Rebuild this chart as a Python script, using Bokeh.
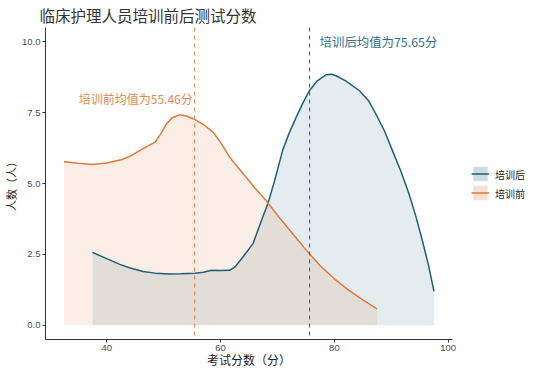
from bokeh.plotting import figure
from bokeh.models import (Range1d, Span, Label, Legend, LegendItem, FixedTicker,
                          NumeralTickFormatter)
from bokeh.embed import file_html
from bokeh.resources import INLINE

title_text = "临床护理人员培训前后测试分数"
x_label = "考试分数（分）"
y_label = "人数（人）"
series_names = ["培训后", "培训前"]

before_x = [32.5, 35, 37.5, 40, 42.5, 44, 45.8, 47, 48.5, 49.5, 50.5, 51.5, 52.8, 54,
            55.5, 57, 58.7, 60, 61.6, 63, 64.5, 66, 68, 70, 72.5, 75, 77.5, 80, 82.5, 85, 87.5]
before_y = [5.77, 5.71, 5.67, 5.72, 5.84, 5.95, 6.16, 6.30, 6.46, 6.75, 7.10, 7.32, 7.42, 7.38,
            7.25, 7.08, 6.81, 6.45, 5.93, 5.58, 5.22, 4.85, 4.40, 3.88, 3.27, 2.66, 2.10, 1.64,
            1.24, 0.90, 0.58]

after_x = [37.5, 40, 42.3, 44, 46.4, 48.5, 51.1, 53, 55.5, 57, 58.4, 60, 61.6, 62.5, 63.9,
           65.7, 67.4, 68.3, 69.5, 70.9, 72, 73.3, 74.5, 75.6, 77, 78.5, 79.5, 80.3, 82, 84.4,
           86, 87.3, 88.8, 90.2, 91.7, 93.1, 94.3, 95.45, 96.5, 97.5]
after_y = [2.57, 2.35, 2.15, 2.03, 1.90, 1.84, 1.81, 1.82, 1.84, 1.87, 1.94, 1.93, 1.94, 2.05,
           2.40, 2.88, 3.81, 4.28, 5.10, 6.16, 6.75, 7.34, 7.85, 8.27, 8.62, 8.83, 8.85, 8.80,
           8.62, 8.27, 7.92, 7.45, 6.85, 6.16, 5.42, 4.64, 3.85, 2.99, 2.15, 1.20]

before_mean = 55.46
after_mean = 75.65
before_note = "培训前均值为55.46分"
after_note = "培训后均值为75.65分"
x_ticks = [40, 60, 80, 100]
y_ticks = [0, 2.5, 5, 7.5, 10]

TEAL = "#1F5F78"
ORANGE = "#E0783A"
CJK = "Noto Sans CJK SC"
LAT = "Liberation Sans"

p = figure(frame_width=407, frame_height=312, output_backend="svg", toolbar_location=None,
           x_range=Range1d(29.25, 100.75), y_range=Range1d(-0.5, 10.5),
           min_border_left=38, min_border_right=93, min_border_top=23, min_border_bottom=30,
           background_fill_color="white", border_fill_color="white")
p.outline_line_color = None
p.xgrid.visible = False
p.ygrid.visible = False

p.title.text = title_text
p.title.text_font = CJK
p.title.text_font_size = "15.5px"
p.title.text_font_style = "normal"
p.title.text_color = "#333333"
p.title.standoff = 3
p.title.offset = -6

# areas
p.varea(x=after_x, y1=0, y2=after_y, fill_color=TEAL, fill_alpha=0.12)
p.varea(x=before_x, y1=0, y2=before_y, fill_color=ORANGE, fill_alpha=0.13)
after_line = p.line(after_x, after_y, line_color=TEAL, line_width=1.5)
before_line = p.line(before_x, before_y, line_color=ORANGE, line_width=1.5)

# legend key fills
after_key = p.varea(x=[0], y1=[0], y2=[0], fill_color=TEAL, fill_alpha=0.22)
before_key = p.varea(x=[0], y1=[0], y2=[0], fill_color=ORANGE, fill_alpha=0.22)

p.add_layout(Span(location=before_mean, dimension="height", line_color=ORANGE,
                  line_dash="4 4", line_width=1))
p.add_layout(Span(location=after_mean, dimension="height", line_color=TEAL,
                  line_dash="4 4", line_width=1))

p.add_layout(Label(x=before_mean, y=8.0, x_offset=-2, text=before_note, text_align="right",
                   text_baseline="middle", text_font=CJK, text_font_size="12px",
                   text_color="#DE8A50"))
p.add_layout(Label(x=after_mean, y=10.0, x_offset=10, text=after_note, text_align="left",
                   text_baseline="middle", text_font=CJK, text_font_size="12.4px",
                   text_color="#2F6F86"))

for ax in (p.xaxis[0], p.yaxis[0]):
    ax.axis_line_color = "#333333"
    ax.axis_line_width = 1
    ax.major_tick_line_color = "#333333"
    ax.major_tick_out = 3
    ax.major_tick_in = 0
    ax.minor_tick_line_color = None
    ax.major_label_text_font = LAT
    ax.major_label_text_font_size = "9.5px"
    ax.major_label_text_color = "#4D4D4D"
    ax.major_label_standoff = 2
    ax.axis_label_text_font = CJK
    ax.axis_label_text_font_style = "normal"
    ax.axis_label_text_color = "#222222"
    ax.axis_label_standoff = 0

p.xaxis[0].axis_label_standoff = -3
p.xaxis[0].axis_label_text_font_size = "12px"
p.yaxis[0].axis_label_text_font_size = "11px"
p.xaxis[0].ticker = FixedTicker(ticks=x_ticks)
p.yaxis[0].ticker = FixedTicker(ticks=y_ticks)
p.yaxis[0].formatter = NumeralTickFormatter(format="0.0")
p.xaxis[0].axis_label = x_label
p.yaxis[0].axis_label = y_label

leg = Legend(items=[LegendItem(label=series_names[0], renderers=[after_key, after_line]),
                    LegendItem(label=series_names[1], renderers=[before_key, before_line])],
             location="center_left", margin=19, padding=0, spacing=1,
             glyph_width=18, glyph_height=18, label_height=18, label_standoff=6,
             border_line_color=None, background_fill_alpha=0,
             label_text_font=CJK, label_text_font_size="10px", label_text_color="#222222")
p.add_layout(leg, "right")

open("out.html", "w").write(file_html(p, INLINE))
